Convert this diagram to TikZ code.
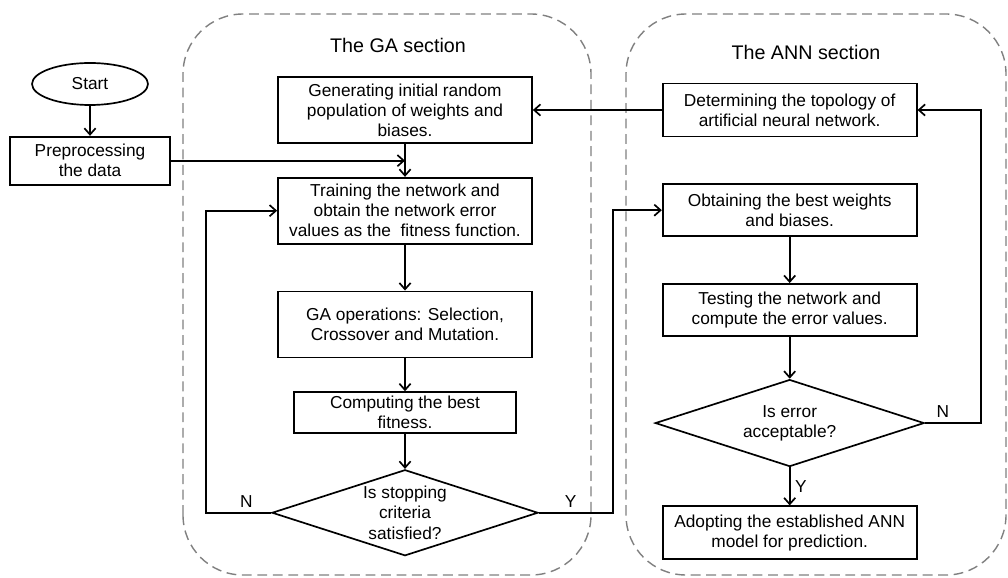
\documentclass[tikz,border=0pt]{standalone}
\usepackage{fontspec}
\setmainfont{Liberation Sans}
\usetikzlibrary{arrows.meta,positioning,shapes.geometric}

\begin{document}
\begin{tikzpicture}[>={Straight Barb[length=4.5pt,width=8pt]},line width=1.2pt,node distance=8.25mm,
        every node/.style={font=\fontsize{12.3}{14.3}\selectfont},
        box/.style={draw,rectangle,align=center,minimum width=63.5mm,minimum height=16.5mm,inner sep=0pt},
        decision/.style={draw,diamond,align=center,aspect=3.1,inner sep=0pt},
        frame/.style={draw=gray,line width=1pt,dash pattern=on 7pt off 4pt,rounded corners=15mm}]

                \useasboundingbox (0,0) rectangle (25.2,14.425);

                \draw[frame] (4.575,0.05) rectangle (14.775,14.075);
                \draw[frame] (15.65,0.05) rectangle (25.15,14.075);

                \node[font=\fontsize{14}{16}\selectfont] (gatitle) at (9.95,13.3) {The GA section};
                \node[font=\fontsize{14}{16}\selectfont] (anntitle) at (20.15,13.125) {The ANN section};

                \node[draw,ellipse,minimum width=29mm,minimum height=10.5mm,inner sep=0pt] (start) at (2.25,12.325) {Start};
                \node[box,minimum width=40mm,minimum height=12mm] (prep) [below=7.5mm of start] {Preprocessing\\the data};

                \node[box] (gen) at (10.125,11.675) {Generating initial random\\population of weights and\\biases.};
                \node[box] (train) [below=of gen] {Training the network and\\obtain the network error\\values as the~ fitness function.};
                \node[box] (gaop) [below=11.5mm of train] {GA operations: Selection,\\Crossover and Mutation.};
                \node[box,minimum width=55.5mm,minimum height=10.25mm] (comp) [below=of gaop] {Computing the best\\fitness.};
                \node[decision,minimum width=66.5mm,minimum height=21.5mm] (stop) [below=8.75mm of comp] {Is stopping\\criteria\\satisfied?};

                \node[box,minimum height=13.25mm] (det) [right=32.25mm of gen] {Determining the topology of\\artificial neural network.};
                \node[box,minimum height=13mm] (obt) [below=11.5mm of det] {Obtaining the best weights\\and biases.};
                \node[box,minimum height=13mm] (test) [below=11.5mm of obt] {Testing the network and\\compute the error values.};
                \node[decision,minimum width=67.25mm,minimum height=21.75mm] (err) [below=10.5mm of test] {Is error\\acceptable?};
                \node[box,minimum height=13.25mm] (adopt) [below=9.5mm of err] {Adopting the established ANN\\model for prediction.};

                \path[->] (start) edge (prep)
                          (gen) edge (train)
                          (train) edge (gaop)
                          (gaop) edge (comp)
                          (comp) edge (stop)
                          (det) edge (gen)
                          (obt) edge (test)
                          (test) edge (err)
                          (err) edge node[right] {Y} (adopt);

                \draw[->] (prep.east) -- (prep.east -| gen.south);
                \draw[->] (stop.west) -- node[above,pos=0.38] {N} ++(-1.625,0) |- (train.west);
                \draw[->] (stop.east) -- node[above,pos=0.43] {Y} ++(1.85,0) |- (obt.west);
                \draw[->] (err.east) -- node[above,pos=0.32] {N} ++(1.4,0) |- (det.east);

            \end{tikzpicture}
\end{document}
